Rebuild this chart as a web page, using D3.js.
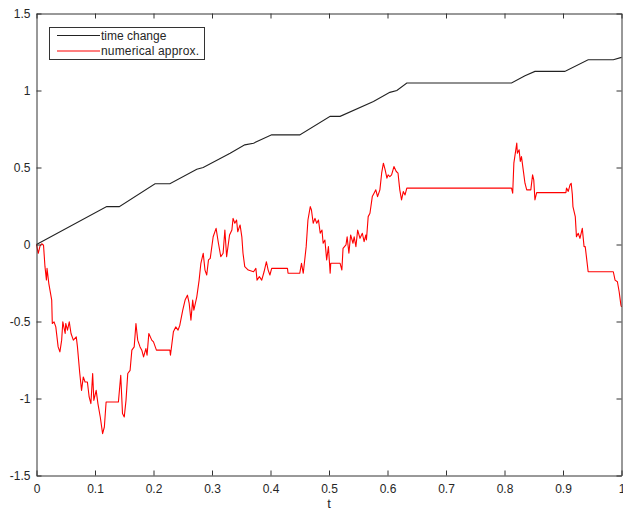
<!DOCTYPE html>
<html><head><meta charset="utf-8">
<script src="https://cdn.jsdelivr.net/npm/d3@7"></script>
<style>body{margin:0;background:#fff}svg{display:block}text{font-family:"Liberation Sans",Arial,sans-serif}</style>
</head><body>
<svg id="c" width="623" height="511"></svg>
<script>
const xTicks = [0,0.1,0.2,0.3,0.4,0.5,0.6,0.7,0.8,0.9,1];
const xTickLabels = ["0","0.1","0.2","0.3","0.4","0.5","0.6","0.7","0.8","0.9","1"];
const yTicks = [-1.5,-1,-0.5,0,0.5,1,1.5];
const yTickLabels = ["-1.5","-1","-0.5","0","0.5","1","1.5"];
const seriesNames = ["time change","numerical approx."];

const blackT = [0,0.12,0.1415,0.2026,0.228,0.274,0.285,0.331,0.356,0.371,0.402,0.45,0.502,0.519,0.576,0.604,0.616,0.633,0.812,0.835,0.852,0.903,0.943,0.986,1.0];
const blackY = [0,0.246,0.246,0.394,0.394,0.489,0.5,0.593,0.647,0.658,0.712,0.712,0.832,0.832,0.929,0.988,1.0,1.049,1.049,1.096,1.124,1.124,1.2,1.2,1.215];

const redT = [0,0.003,0.006,0.009,0.012,0.0145,0.017,0.018,0.021,0.026,0.027,0.030,0.033,0.037,0.040,0.043,0.045,0.049,0.050,0.053,0.056,0.059,0.063,0.068,0.070,0.074,0.077,0.080,0.083,0.087,0.090,0.093,0.096,0.098,0.102,0.105,0.109,0.113,0.116,0.119,0.140,0.144,0.147,0.150,0.153,0.156,0.160,0.163,0.167,0.170,0.173,0.177,0.180,0.183,0.187,0.189,0.192,0.197,0.200,0.205,0.228,0.229,0.234,0.238,0.242,0.245,0.250,0.254,0.258,0.261,0.264,0.267,0.269,0.274,0.278,0.281,0.285,0.288,0.291,0.294,0.297,0.302,0.307,0.311,0.315,0.319,0.322,0.325,0.330,0.334,0.336,0.339,0.342,0.344,0.348,0.351,0.353,0.356,0.362,0.371,0.375,0.377,0.381,0.385,0.389,0.393,0.396,0.399,0.402,0.429,0.430,0.450,0.453,0.456,0.461,0.464,0.468,0.470,0.473,0.476,0.479,0.482,0.485,0.488,0.490,0.493,0.496,0.499,0.502,0.503,0.519,0.522,0.524,0.529,0.531,0.534,0.537,0.541,0.543,0.546,0.549,0.553,0.557,0.560,0.563,0.564,0.567,0.570,0.574,0.577,0.580,0.583,0.587,0.590,0.593,0.596,0.599,0.601,0.604,0.607,0.611,0.615,0.618,0.621,0.624,0.627,0.630,0.633,0.812,0.814,0.816,0.821,0.822,0.825,0.827,0.829,0.832,0.835,0.838,0.845,0.848,0.850,0.852,0.855,0.905,0.906,0.909,0.912,0.914,0.916,0.917,0.921,0.923,0.926,0.929,0.933,0.936,0.938,0.940,0.943,0.986,0.989,0.993,0.996,0.999,1.000];
const redY = [0,-0.057,-0.010,0.005,-0.005,-0.144,-0.231,-0.155,-0.252,-0.361,-0.513,-0.502,-0.535,-0.665,-0.697,-0.621,-0.502,-0.578,-0.513,-0.556,-0.502,-0.578,-0.621,-0.600,-0.665,-0.838,-0.947,-0.860,-0.893,-0.893,-0.990,-1.033,-0.838,-1.012,-0.947,-1.033,-1.120,-1.228,-1.185,-1.023,-1.023,-0.849,-1.098,-1.120,-1.012,-0.838,-0.817,-0.686,-0.665,-0.513,-0.621,-0.665,-0.686,-0.730,-0.676,-0.719,-0.578,-0.621,-0.632,-0.686,-0.686,-0.719,-0.567,-0.535,-0.556,-0.524,-0.426,-0.361,-0.329,-0.383,-0.491,-0.361,-0.426,-0.340,-0.231,-0.122,-0.057,-0.166,-0.198,-0.100,-0.090,0.050,0.105,0.008,-0.079,-0.057,0.094,-0.079,0.062,0.094,0.170,0.138,0.159,0.083,0.127,0.050,-0.057,-0.144,-0.166,-0.177,-0.155,-0.231,-0.209,-0.231,-0.177,-0.112,-0.166,-0.198,-0.155,-0.155,-0.187,-0.187,-0.122,-0.187,-0.014,0.159,0.246,0.224,0.138,0.170,0.138,0.159,0.073,0.094,0.008,0.029,-0.100,-0.014,-0.187,-0.122,-0.122,-0.166,-0.025,-0.003,0.050,-0.057,0.062,0.008,0.050,-0.014,0.094,0.040,0.073,0.018,0.062,0.029,0.181,0.203,0.311,0.333,0.355,0.311,0.355,0.463,0.528,0.485,0.431,0.452,0.441,0.452,0.506,0.474,0.463,0.355,0.290,0.344,0.322,0.366,0.366,0.333,0.528,0.658,0.593,0.615,0.539,0.571,0.485,0.398,0.355,0.355,0.452,0.420,0.290,0.337,0.337,0.366,0.345,0.387,0.398,0.322,0.246,0.181,0.050,0.073,0.040,0.105,-0.014,-0.014,-0.079,-0.177,-0.177,-0.231,-0.242,-0.307,-0.394,-0.405];

const svg = d3.select("#c");
const L = 36.5, R = 621.5, T = 13.5, B = 475.5;
const x = d3.scaleLinear().domain([0,1]).range([L,R]);
const y = d3.scaleLinear().domain([-1.5,1.5]).range([B,T]);
const axisCol = "#333";
const textCol = "#262626";

// data lines
const line = d3.line().x(d=>x(d[0])).y(d=>y(d[1]));
const blackData = blackT.map((t,i)=>[t,blackY[i]]);
const redData = redT.map((t,i)=>[t,redY[i]]);
svg.append("path").datum(blackData).attr("d",line).attr("fill","none").attr("stroke","#222").attr("stroke-width",1.1);
svg.append("path").datum(redData).attr("d",line).attr("fill","none").attr("stroke","#ff0000").attr("stroke-width",1.1).attr("stroke-linejoin","round");

// axes (ticks inward)
const fmtX = (d,i)=>xTickLabels[i];
const fmtY = (d,i)=>yTickLabels[i];
const gB = svg.append("g").attr("transform",`translate(0,${B})`).call(d3.axisBottom(x).tickValues(xTicks).tickFormat(fmtX).tickSizeInner(-5).tickSizeOuter(0).tickPadding(9));
const gT = svg.append("g").attr("transform",`translate(0,${T})`).call(d3.axisTop(x).tickValues(xTicks).tickFormat("").tickSizeInner(-5).tickSizeOuter(0));
const gL = svg.append("g").attr("transform",`translate(${L},0)`).call(d3.axisLeft(y).tickValues(yTicks).tickFormat(fmtY).tickSizeInner(-5).tickSizeOuter(0).tickPadding(6));
const gR = svg.append("g").attr("transform",`translate(${R},0)`).call(d3.axisRight(y).tickValues(yTicks).tickFormat("").tickSizeInner(-5).tickSizeOuter(0));
[gB,gT,gL,gR].forEach(g=>{
  g.selectAll("path.domain").attr("stroke",axisCol);
  g.selectAll(".tick line").attr("stroke",axisCol);
  g.selectAll(".tick text").attr("fill",textCol).style("font-size","12px").style("font-family",'"Liberation Sans",Arial,sans-serif');
});
gL.selectAll(".tick text").attr("dy","0.35em");

// x label
svg.append("text").attr("x",(L+R)/2).attr("y",508).attr("text-anchor","middle").attr("fill",textCol).style("font-size","13px").text("t");

// legend
const lg = svg.append("g");
lg.append("rect").attr("x",49.5).attr("y",27.5).attr("width",155).attr("height",32).attr("fill","#fff").attr("stroke",axisCol).attr("stroke-width",1);
const legCols = ["#222","#ff0000"];
seriesNames.forEach((n,i)=>{
  const yy = 35.5 + i*15.5;
  lg.append("line").attr("x1",57).attr("x2",100).attr("y1",yy).attr("y2",yy).attr("stroke",legCols[i]).attr("stroke-width",1.1);
  lg.append("text").attr("x",101).attr("y",yy+4).attr("fill",textCol).style("font-size","12px").attr("textLength", i===1 ? 98 : null).text(n);
});
</script>
</body></html>
